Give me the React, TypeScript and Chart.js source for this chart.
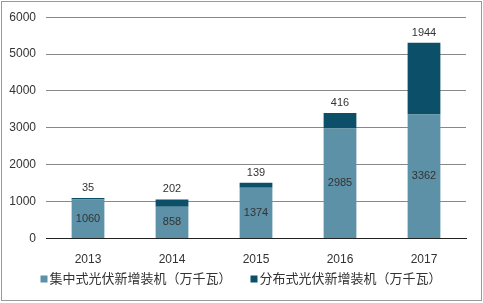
import React, { useEffect, useRef } from "react";
import { Chart, registerables } from "chart.js";

Chart.register(...registerables);

const categories = ["2013", "2014", "2015", "2016", "2017"];
const centralized = [1060, 858, 1374, 2985, 3362];
const distributed = [35, 202, 139, 416, 1944];
const seriesNames = ["集中式光伏新增装机（万千瓦）", "分布式光伏新增装机（万千瓦）"];
const yTicks = [0, 1000, 2000, 3000, 4000, 5000, 6000];

const LIGHT = "#5d91a8";
const DARK = "#0c4f68";
const FONT = "Arial, 'Liberation Sans', 'Noto Sans CJK SC', sans-serif";

export default function App() {
  const ref = useRef<HTMLCanvasElement | null>(null);
  useEffect(() => {
    document.body.style.margin = "0";
    const canvas = ref.current!;
    const labelPlugin = {
      id: "labels",
      afterDatasetsDraw(chart: any) {
        const ctx = chart.ctx;
        ctx.save();
        ctx.font = `11px ${FONT}`;
        ctx.fillStyle = "#333";
        ctx.textAlign = "center";
        ctx.textBaseline = "middle";
        const m0 = chart.getDatasetMeta(0);
        const m1 = chart.getDatasetMeta(1);
        m0.data.forEach((el: any, i: number) => {
          const y = (el.y + el.base) / 2;
          ctx.fillText(String(centralized[i]), el.x, y);
        });
        m1.data.forEach((el: any, i: number) => {
          ctx.fillText(String(distributed[i]), el.x, el.y - 10);
        });
        ctx.restore();
      },
      afterDraw(chart: any) {
        const ctx = chart.ctx;
        ctx.save();
        ctx.strokeStyle = "#999";
        ctx.lineWidth = 1;
        ctx.strokeRect(1.5, 1.5, 480, 299);
        ctx.font = `13px ${FONT}`;
        ctx.textBaseline = "middle";
        ctx.textAlign = "left";
        const colors = [LIGHT, DARK];
        const w0 = ctx.measureText(seriesNames[0]).width;
        const w1 = ctx.measureText(seriesNames[1]).width;
        const box = 7, gap = 2, itemGap = 19;
        const total = box + gap + w0 + itemGap + box + gap + w1;
        let x = 241 - total / 2;
        const y = 279;
        [w0, w1].forEach((w, i) => {
          ctx.fillStyle = colors[i];
          ctx.fillRect(x, y - box / 2, box, box);
          ctx.fillStyle = "#333";
          ctx.fillText(seriesNames[i], x + box + gap, y + 0.5);
          x += box + gap + w + itemGap;
        });
        ctx.restore();
      },
    };

    const chart = new Chart(canvas, {
      type: "bar",
      data: {
        labels: categories,
        datasets: [
          { label: seriesNames[0], data: centralized, backgroundColor: LIGHT, barPercentage: 0.39, categoryPercentage: 1 },
          { label: seriesNames[1], data: distributed, backgroundColor: DARK, barPercentage: 0.39, categoryPercentage: 1 },
        ],
      },
      options: {
        responsive: false,
        animation: false,
        layout: { padding: { top: 15, right: 17, left: 0, bottom: 0 } },
        plugins: { legend: { display: false }, tooltip: { enabled: false } },
        scales: {
          x: {
            stacked: true,
            grid: { display: false },
            border: { color: "#222", width: 1 },
            ticks: { font: { size: 12, family: FONT }, color: "#333", padding: 6 },
            afterFit: (s: any) => { s.height = 303 - 238.5; },
          },
          y: {
            stacked: true,
            min: 0,
            max: 6000,
            afterBuildTicks: (s: any) => { s.ticks = yTicks.map((v) => ({ value: v })); },
            grid: { color: "#888", drawTicks: false },
            border: { display: false },
            ticks: {
              font: { size: 12, family: FONT },
              color: "#333",
              padding: 10,
              callback: (v: any) => String(v),
            },
            afterFit: (s: any) => { s.width = 46; },
          },
        },
      },
      plugins: [labelPlugin],
    });
    return () => chart.destroy();
  }, []);
  return (
    <div style={{ width: 483, height: 303 }}>
      <canvas ref={ref} width={483} height={303} />
    </div>
  );
}
